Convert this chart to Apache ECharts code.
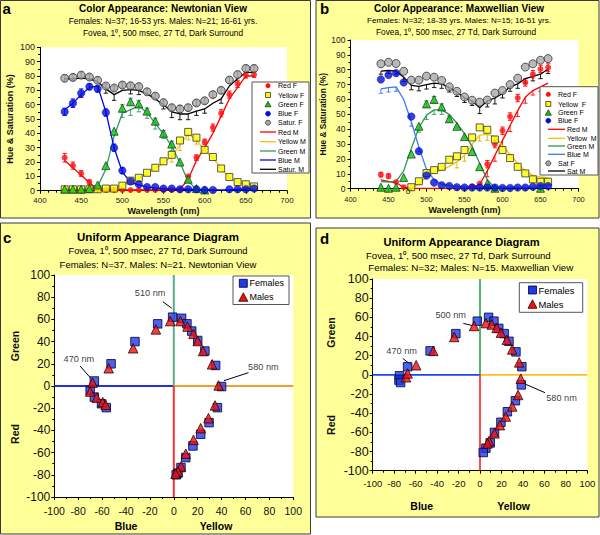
<!DOCTYPE html>
<html><head><meta charset="utf-8">
<script src="https://cdn.jsdelivr.net/npm/echarts@6/dist/echarts.min.js"></script>
<style>html,body{margin:0;padding:0;background:#fff}#c{width:600px;height:535px}</style>
</head><body><div id="c"></div><script>
// ---------- DATA ----------
const nmA = [430,440,450,460,470,480,490,500,510,520,530,540,550,560,570,580,590,600,610,620,630,640,650,660];
const redF_a = [23,17.5,12,6,1,0.5,0.5,0.5,0.5,0.5,0.5,0.5,0.5,0.5,0.5,10,23,34,44,54,67,74.5,80.5,81];
const redM_a = [21,16,11,5.5,1,0.5,0.5,0.5,0.5,0.5,0.5,0.5,0.5,0.5,1,8,21,30,40,52,64,72,80,80];
const yelF_a = [1,1,1,1,1,1.5,1.5,3.5,7,9,12.5,16,20.5,25,35,41,37,28.5,23.5,15.5,9.5,6,4.5,3];
const yelM_a = [1,1,1,1,1,1.5,2,3.5,6.5,8.5,12,15.5,19.5,24,32,39.5,35.5,28,23,15.5,9,6,4,2.5];
const grnF_a = [1,1,1,1.5,4,17.5,41.5,57.5,62,60.5,55.5,48.5,40,32.5,20,8,1.5,0.5,null,null,null,null,null,null];
const grnM_a = [1,1,1,1.5,3,15,38,54,56.5,59,54.5,47,39.5,31,19.5,6.5,1,0.5,null,null,null,null,null,null];
const bluF_a = [55,61,68,72.5,71,54.5,30,14,6.5,4.5,2.5,2.5,1.5,1.5,1,1,1,0.5,0.5,null,1,1,1,1.5];
const bluM_a = [56.5,61,67,72,73,55,30,13,6,4,2.5,2,1.5,1,1,1,0.5,0.5,0.5,0.5,0.5,1,1,1.5];
const satF_a = [78.4,79,80.6,79.3,77,73,71.6,73.7,73.2,72.6,69,66,61.4,57.9,57,57.9,61.2,62.7,67,70,77.2,81,85.3,85.3];
const satM_a = [78,78,78.5,78,76,71,67,70,70.5,70,67.5,64,60,55,53.5,53.5,55.5,57,61,64,73,78,82.5,82.5];
// error-bar extents (below, above)
const redF_a_err = [3,2.5,2,1.5,0,0,0,0,0,0,0,0,0,0,0,0,2,2,2.5,2.5,2.5,2.5,2,2];
const yelM_a_lo  = [0,0,0,0,0,0,0,0,0,0,0,0,0,4,4,4,3,0,0,0,0,0,0,0];
const grnF_a_err = [0,0,0,0,0,0,0,2.5,2.5,2.5,2,2,2,2,0,0,0,0,0,0,0,0,0,0];
const grnM_a_lo  = [0,0,0,0,0,0,0,3,4,4,4,4,3,3,0,0,0,0,0,0,0,0,0,0];
const bluF_a_err = [2.5,3,3,2,2,2.5,2.5,2,0,0,0,0,0,0,0,0,0,0,0,0,0,0,0,0];
const satF_a_err = [2,2,2,2,2,1.5,1.5,2,2,2,2,2,2,2,2.5,2,2,2,2,2,2,2,2,2];
const satM_a_lo  = [0,0,0,0,0,3,4,0,3,3,0,0,3,4,4,4,3,3,0,3,0,0,0,0];

const nmB = [440,450,460,470,480,490,500,510,520,530,540,550,560,570,580,590,600,610,620,630,640,650,660];
const redF_b = [9.5,8.5,4.5,1,null,null,null,null,null,null,null,null,1.5,3.5,16.5,30,39,48.5,61,71.5,77,80.5,81.5];
const redM_b = [6,5,4,1,0.3,0.2,0.2,0.2,0.2,0.2,0.2,0.2,0.5,3,12,22.5,32.5,42.5,52.5,61.5,66,68.5,71];
const yelF_b = [null,null,null,null,1,5,10.5,12.5,14.7,19.5,21.8,26,34.5,41.2,39.6,33.1,26,20.6,14.7,10.3,6.3,4.7,4.7];
const yelM_b = [null,null,null,null,1,3,8,11,12.5,15,18,22.5,30,36,36.5,35,29,23,17,12,9,8,7.5];
const grnF_b = [1,0.3,1,7.5,23.3,42,57,60,55,47,42,35,25,14.8,3.4,0.3,null,null,null,null,null,0.3,null];
const grnM_b = [4.7,4.5,5,12,27,41,49.5,53,53,50,44,37,28.5,17,6,0.5,0.3,null,null,null,null,null,null];
const bluF_b = [73.5,76.5,77.7,71.5,48.5,25.2,8.8,4.1,2.3,1.8,1,0.8,0.8,0.8,0.8,0.8,0.5,0.5,0.8,0.8,1.3,1.8,1.8];
const bluM_b = [67.2,68,68.5,60,45,28,13,6,3,2,1.5,1.2,1,1,1,1,1,1,1,1,1,1,1];
const satF_b = [84,85,84.2,79,73,73,75.7,75,72.8,68.5,65.5,61.7,59.5,58.2,59.6,64.3,66,70,74.3,81.8,84,86.4,87.5];
const satM_b = [79,79.5,79,75,69.5,68.8,70,71,70.5,68,65,61,59,54.5,59,61,64,68.5,70.5,74,75.5,77,80.5];
const redF_b_err = [1.5,1.5,0,0,0,0,0,0,0,0,0,0,0,0,2.5,2.5,2.5,2.5,2.5,2.5,2.5,2.5,2.5];
const redM_b_lo  = [0,0,0,0,0,0,0,0,0,0,0,0,0,0,4,4,4,4,4,4,3,3,0];
const yelM_b_lo  = [0,0,0,0,0,0,0,0,0,0,4,4,4,4,4,4,0,0,0,0,0,0,0];
const grnF_b_err = [0,0,0,0,0,0,2,2,2,2,0,0,0,0,0,0,0,0,0,0,0,0,0];
const grnM_b_lo  = [0,0,0,0,0,3,3,3,3,3,3,3,0,0,0,0,0,0,0,0,0,0,0];
const bluM_b_lo  = [3,3,3,0,3,3,0,0,0,0,0,0,0,0,0,0,0,0,0,0,0,0,0];
const satM_b_lo  = [2,2,2,3,3,3,3,3,3,3,3,3,3,4,4,4,3,3,3,3,3,3,3];

const femalesC = [[-66.5,4.5],[-70,-4],[-66.5,-10],[-60.5,-16],[-56.5,-19.5],[-52.5,20],[-32.5,40],[-13.5,56],[-1,62],[6.5,61],[11,56],[15,49.5],[20,41],[26,31.5],[35,18.5],[40,-0.5],[36.5,-19.5],[29.5,-33],[22.5,-43.5],[16,-54],[10,-64.5],[6,-73.5],[3.5,-78.5],[2,-80]];
const malesC = [[-68,3],[-70,-5],[-64.5,-10.5],[-59.5,-14.5],[-57,-17],[-54.5,16],[-34,34],[-15,51],[-3,58.5],[5.5,58.5],[11.5,53.5],[16.5,47],[20,40.5],[24.5,31.5],[32,19.5],[37.5,0.5],[34.5,-17.5],[29,-29],[22.5,-38],[16.5,-48.5],[10,-61],[6,-72.5],[3.5,-77],[1.5,-79]];
const femalesD = [[-75,-1],[-75.5,-5.5],[-74,-8],[-67.5,8.5],[-46.5,25],[-22.5,43],[-2.5,56],[8,60],[13,56],[17.5,48.5],[22.5,43],[27,35],[33.5,24],[39,8.5],[38.5,-10.5],[33,-27],[25.5,-38.5],[19.5,-49.5],[13.5,-60],[9.5,-71],[5.5,-76.5],[3,-81]];
const malesD = [[-69,-2.5],[-67.5,1.5],[-59.5,10],[-43.5,25],[-24,39.5],[-5.5,51],[5.5,54],[11,52.5],[15.5,49],[19.5,44],[25,36.5],[30,26.5],[36.5,13],[38,-4],[35.5,-21],[30,-33],[24,-43.5],[18.5,-52.5],[13.5,-61],[8.5,-69],[7,-71.5]];

const notesC = [
  {t:'510 nm', at:[-19.8,84], from:[-9.2,76], to:[-1.7,70]},
  {t:'470 nm', at:[-79.4,24], from:[-78.4,18], to:[-69.5,7]},
  {t:'580 nm', at:[75,17.5], from:[62.5,12], to:[42,4.8]}
];
const notesD = [
  {t:'500 nm', at:[-27.3,62.4], from:[-15.5,53.7], to:[-6.8,51.3]},
  {t:'470 nm', at:[-73,25.2], from:[-72,17.2], to:[-63,9.2]},
  {t:'580 nm', at:[76,-23.8], from:[60.6,-18.6], to:[42,-9.6]}
];
const UAD_MIN = -100, UAD_MAX = 100;

// ---------- HELPERS ----------
const FONT = "'Liberation Sans', Arial, Helvetica, sans-serif";
function pairs(xs, ys){ const o=[]; xs.forEach((x,i)=>{ if(ys[i]!=null) o.push([x,ys[i]]); }); return o; }
function F(name, xs, ys, idx, s){
  return {type:'scatter', name, xAxisIndex:idx, yAxisIndex:idx, data:pairs(xs,ys), symbol:s.sym, symbolSize:s.size,
    itemStyle:{color:s.c, borderColor:s.bc||s.c, borderWidth:s.bw||0}, z:5, silent:true};
}
function M(name, xs, ys, idx, color, w){
  return {type:'line', name, xAxisIndex:idx, yAxisIndex:idx, data:pairs(xs,ys), symbol:'none', smooth:false,
    lineStyle:{color, width:w||1.3}, itemStyle:{color}, z:4, silent:true};
}
function E(idx, xs, ys, lo, hi, color){
  const data=[];
  xs.forEach((x,i)=>{ const l=lo[i]||0, h=(hi?hi[i]:0)||0; if(ys[i]!=null && (l||h)) data.push([x, ys[i], l, h]); });
  return {type:'custom', xAxisIndex:idx, yAxisIndex:idx, silent:true, z:3, data, encode:{x:0,y:1},
    renderItem:(params, api)=>{
      const x=api.value(0), y=api.value(1), l=api.value(2), h=api.value(3);
      const a=api.coord([x,y-l]), b=api.coord([x,y+h]), cw=2.2, st={stroke:color, lineWidth:0.9};
      const ch=[{type:'line', shape:{x1:a[0],y1:a[1],x2:b[0],y2:b[1]}, style:st}];
      if(l>0) ch.push({type:'line', shape:{x1:a[0]-cw,y1:a[1],x2:a[0]+cw,y2:a[1]}, style:st});
      if(h>0) ch.push({type:'line', shape:{x1:b[0]-cw,y1:b[1],x2:b[0]+cw,y2:b[1]}, style:st});
      return {type:'group', children:ch};
    }};
}
function P(name, pts, idx, s){
  return {type:'scatter', name, xAxisIndex:idx, yAxisIndex:idx, data:pts, symbol:s.sym, symbolSize:s.size,
    itemStyle:{color:s.c, borderColor:s.bc, borderWidth:s.bw}, z:6, silent:true};
}
function seg(idx, a, b, color, w){
  return {type:'line', xAxisIndex:idx, yAxisIndex:idx, data:[a,b], symbol:'none', lineStyle:{color, width:w}, z:2, silent:true};
}
function notes(idx, list, fs){
  return {type:'scatter', xAxisIndex:idx, yAxisIndex:idx, symbolSize:0, silent:true, z:7,
    data:list.map(n=>({name:n.t, value:n.at})),
    label:{show:true, position:'inside', formatter:'{b}', color:'#000', fontSize:fs, fontFamily:FONT},
    markLine:{silent:true, symbol:['none','arrow'], symbolSize:[0,7], label:{show:false},
      lineStyle:{color:'#000', width:1, type:'solid'},
      data:list.map(n=>[{coord:n.from},{coord:n.to}])}};
}

const sRedF = {sym:'circle', size:6, c:'#ff1010'};
const sYelF = {sym:'rect', size:7, c:'#ffff00', bc:'#333', bw:1};
const sGrnF = {sym:'triangle', size:8, c:'#00d000', bc:'#333', bw:1};
const sBluF = {sym:'circle', size:7.5, c:'#0010e0', bc:'#000070', bw:0.5};
const sSatF = {sym:'circle', size:8, c:'#a8a8a8', bc:'#333', bw:1};
const sFem = {sym:'rect', size:8.5, c:'#1f3ae8', bc:'#000030', bw:1};
const sMal = {sym:'triangle', size:9.5, c:'#ee1111', bc:'#300000', bw:1};
const cRed='#ff0000', cYel='#f5c400', cGrnA='#2f9a6a', cGrnB='#2a9a55', cBluA='#0000ff', cBluB='#3a78ff';

function waveX(idx, fs, margin, nameGap){
  return {gridIndex:idx, type:'value', min:400, max:700, interval:50,
    axisLine:{show:true, onZero:false, lineStyle:{color:'#000', width:1}},
    axisTick:{show:true, length:3, lineStyle:{color:'#000'}},
    minorTick:{show:true, splitNumber:5, length:2, lineStyle:{color:'#000'}},
    splitLine:{show:false},
    axisLabel:{fontSize:fs, color:'#222', margin, fontFamily:FONT},
    name:'Wavelength (nm)', nameLocation:'middle', nameGap,
    nameTextStyle:{fontWeight:'bold', fontSize:9, color:'#111', fontFamily:FONT}};
}
function pctY(idx, fs, nameGap, nfs){
  return {gridIndex:idx, type:'value', min:0, max:100, interval:10,
    axisLine:{show:true, onZero:false, lineStyle:{color:'#000', width:1}},
    axisTick:{show:true, length:3, lineStyle:{color:'#000'}},
    minorTick:{show:true, splitNumber:2, length:2, lineStyle:{color:'#000'}},
    splitLine:{show:false},
    axisLabel:{fontSize:fs, color:'#222', margin:5, fontFamily:FONT},
    name:'Hue & Saturation (%)', nameLocation:'middle', nameGap, nameRotate:90,
    nameTextStyle:{fontWeight:'bold', fontSize:nfs, color:'#111', fontFamily:FONT}};
}
function uadAxis(idx, fs, margin){
  return {gridIndex:idx, type:'value', min:UAD_MIN, max:UAD_MAX, interval:20,
    axisLine:{show:true, onZero:false, lineStyle:{color:'#000', width:1}},
    axisTick:{show:true, length:3, lineStyle:{color:'#000'}},
    minorTick:{show:true, splitNumber:2, length:2, lineStyle:{color:'#000'}},
    splitLine:{show:false},
    axisLabel:{fontSize:fs, color:'#111', margin, fontFamily:FONT}};
}
function txt(text, x, y, size, bold, align){
  return {type:'text', x, y, z:20, silent:true,
    style:{text, fill:'#000', font:(bold?'bold ':'')+size+'px '+FONT, align:align||'center', verticalAlign:'middle'}};
}
function rtxt(text, x, y, size){
  return {type:'text', x, y, rotation:Math.PI/2, z:20, silent:true,
    style:{text, fill:'#111', font:'bold '+size+'px '+FONT, align:'center', verticalAlign:'middle'}};
}
function panel(x,y,w,h){
  return {type:'rect', shape:{x,y,width:w,height:h}, z:-10, silent:true, style:{fill:'#ffff99', stroke:'#3a3a3a', lineWidth:1}};
}
function box(x,y,w,h){
  return {type:'rect', shape:{x,y,width:w,height:h}, z:15, silent:true, style:{fill:'#fff', stroke:'#555', lineWidth:1}};
}
function letter(t,x,y){
  return {type:'text', x, y, z:20, silent:true, style:{text:t, fill:'#000', font:'bold 15px '+FONT, align:'left', verticalAlign:'top'}};
}
// legend-key glyphs (layout only)
function key(s, x, y, size){
  const st = {fill:s.c, stroke:s.bw?s.bc:null, lineWidth:s.bw?Math.min(s.bw,0.8):0};
  const h = size/2;
  if (s.sym==='circle') return {type:'circle', shape:{cx:x, cy:y, r:h}, z:18, silent:true, style:st};
  if (s.sym==='rect') return {type:'rect', shape:{x:x-h, y:y-h, width:size, height:size}, z:18, silent:true, style:st};
  return {type:'polygon', shape:{points:[[x,y-h-0.5],[x+h+0.5,y+h],[x-h-0.5,y+h]]}, z:18, silent:true, style:st};
}
function keyLine(color, x1, x2, y){
  return {type:'line', shape:{x1, y1:y, x2, y2:y}, z:18, silent:true, style:{stroke:color, lineWidth:1.3}};
}

// legend layouts (pixel positions of each key row)
const legA = [
  ['Red F',sRedF,85.7],['Yellow F',sYelF,95],['Green F',sGrnF,104.3],['Blue F',sBluF,113.7],['Satur. F',sSatF,122.7],
  ['Red M',cRed,132],['Yellow M',cYel,141.7],['Green M',cGrnA,151],['Blue M',cBluA,160],['Satur. M','#000',169.3]];
const legB = [
  ['Red F',sRedF,94.3],['Yellow  F',sYelF,104],['Green F',sGrnF,112.7],['Blue F',sBluF,120.7],
  ['Red M',cRed,129.3],['Yellow  M',cYel,138.3],['Green M',cGrnB,146],['Blue M',cBluB,154.3],
  ['Sat F',sSatF,163.3],['Sat M','#000',171]];
function legendGraphics(rows, mx, tF, lx1, lx2, tM, fs, ks){
  const g=[];
  rows.forEach(([name, st, y])=>{
    if (typeof st === 'string'){ g.push(keyLine(st, lx1, lx2, y)); g.push(Object.assign(txt(name, tM, y, fs, false, 'left'),{z:19})); }
    else { g.push(key(st, mx, y, ks)); g.push(Object.assign(txt(name, tF, y, fs, false, 'left'),{z:19})); }
  });
  return g;
}

const option = {
  animation:false,
  backgroundColor:'#fff',
  graphic:[
    panel(0.5,0.5,310,217.5), panel(316,0.5,283,217.5), panel(0.5,223,310,311), panel(316,228,283,289),
    letter('a',2.5,1), letter('b',320,1), letter('c',3,230), letter('d',320,231),
    txt('Color Appearance: Newtonian View',163,8,10,true),
    txt('Females: N=37; 16-53 yrs. Males: N=21; 16-61 yrs.',163,21,8.3,false),
    txt('Fovea, 1\u2070, 500 msec, 27 Td, Dark Surround',163,33,8.3,false),
    txt('Color Appearance: Maxwellian View',459,8,10,true),
    txt('Females: N=32; 18-35 yrs. Males: N=15; 16-51 yrs.',459,20.7,8.1,false),
    txt('Fovea, 1\u2070, 500 msec, 27 Td, Dark Surround',456,32.3,8.3,false),
    txt('Uniform Appearance Diagram',158,236.7,11.5,true),
    txt('Fovea, 1\u2070, 500 msec, 27 Td, Dark Surround',158,250.7,9.3,false),
    txt('Females: N=37. Males: N=21. Newtonian View',158,264,9.5,false),
    txt('Uniform Appearance Diagram',461.5,241.7,11.1,true),
    txt('Fovea, 1\u2070, 500 msec, 27 Td, Dark Surround',458.3,255,9.6,false),
    txt('Females: N=32; Males: N=15. Maxwellian View',470.8,267.3,9.8,false),
    rtxt('Green',15,346,10.5), rtxt('Red',15,434,10.5),
    txt('Blue',126,526,10.5,true), txt('Yellow',216,526,10.5,true),
    rtxt('Green',330.7,332.5,10.5), rtxt('Red',330.7,425,10.5),
    txt('Blue',421.7,506,10.5,true), txt('Yellow',513.7,506,10.5,true),
    txt('0',408,191.5,8,false),
    box(252,82,57,91), box(540,86.7,58,88.3), box(233,276,56,28.5), box(519.3,282.7,63.4,29.6),
    ...legendGraphics(legA, 268, 278, 260, 276, 278, 7, 5),
    ...legendGraphics(legB, 548.3, 558, 548, 565, 567, 7, 5),
    key(sFem, 243.3, 283.3, 8), Object.assign(txt('Females', 249.5, 283.3, 9, false, 'left'),{z:19}),
    key(sMal, 243.3, 297.3, 8), Object.assign(txt('Males', 249.5, 297.3, 9, false, 'left'),{z:19}),
    key(sFem, 532.5, 290, 8), Object.assign(txt('Females', 538.5, 290, 9.4, false, 'left'),{z:19}),
    key(sMal, 532.5, 304.3, 8), Object.assign(txt('Males', 538.5, 304.3, 9.4, false, 'left'),{z:19})
  ],
  grid:[
    {left:40, top:47.3, width:247, height:143.4, show:true, backgroundColor:'#fff', borderWidth:0},
    {left:350.5, top:40, width:228, height:148.7, show:true, backgroundColor:'#fff', borderWidth:0},
    {left:54.3, top:275, width:239, height:222, show:true, backgroundColor:'#fff', borderWidth:0},
    {left:372.7, top:279, width:214.6, height:191.7, show:true, backgroundColor:'#fff', borderWidth:0}
  ],
  xAxis:[ waveX(0,8,6,15.5), waveX(1,7.5,7,16.5), uadAxis(2,10.5,8), uadAxis(3,9.5,8) ],
  yAxis:[ pctY(0,9,25.5,9), pctY(1,8.5,23,8.3), uadAxis(2,12,4), uadAxis(3,12.5,4) ],
  series:[
    // Panel a
    E(0, nmA, satM_a, satM_a_lo, null, '#000'),
    E(0, nmA, grnM_a, grnM_a_lo, null, cGrnA),
    E(0, nmA, yelM_a, yelM_a_lo, null, '#e0b000'),
    E(0, nmA, satF_a, satF_a_err, satF_a_err, '#333'),
    E(0, nmA, bluF_a, bluF_a_err, bluF_a_err, cBluA),
    E(0, nmA, grnF_a, grnF_a_err, grnF_a_err, cGrnA),
    E(0, nmA, redF_a, redF_a_err, redF_a_err, cRed),
    M('Red M', nmA, redM_a, 0, cRed),
    M('Yellow M', nmA, yelM_a, 0, cYel),
    M('Green M', nmA, grnM_a, 0, cGrnA),
    M('Blue M', nmA, bluM_a, 0, cBluA),
    M('Satur. M', nmA, satM_a, 0, '#000000'),
    F('Red F', nmA, redF_a, 0, sRedF),
    F('Yellow F', nmA, yelF_a, 0, sYelF),
    F('Green F', nmA, grnF_a, 0, sGrnF),
    F('Blue F', nmA, bluF_a, 0, sBluF),
    F('Satur. F', nmA, satF_a, 0, sSatF),
    // Panel b
    E(1, nmB, satM_b, satM_b_lo, null, '#000'),
    E(1, nmB, grnM_b, grnM_b_lo, null, cGrnB),
    E(1, nmB, yelM_b, yelM_b_lo, null, '#e0b000'),
    E(1, nmB, redM_b, redM_b_lo, null, cRed),
    E(1, nmB, bluM_b, bluM_b_lo, null, cBluB),
    E(1, nmB, redF_b, redF_b_err, redF_b_err, cRed),
    E(1, nmB, grnF_b, grnF_b_err, grnF_b_err, cGrnB),
    M('Red M', nmB, redM_b, 1, cRed),
    M('Yellow M', nmB, yelM_b, 1, cYel),
    M('Green M', nmB, grnM_b, 1, cGrnB),
    M('Blue M', nmB, bluM_b, 1, cBluB),
    M('Sat M', nmB, satM_b, 1, '#000000'),
    F('Red F', nmB, redF_b, 1, sRedF),
    F('Yellow F', nmB, yelF_b, 1, sYelF),
    F('Green F', nmB, grnF_b, 1, sGrnF),
    F('Blue F', nmB, bluF_b, 1, sBluF),
    F('Sat F', nmB, satF_b, 1, sSatF),
    // Panel c
    seg(2,[UAD_MIN,0],[0,0],'#2030e8',2), seg(2,[0,0],[UAD_MAX,0],'#f0a030',2),
    seg(2,[0,0],[0,UAD_MAX],'#5aae86',2), seg(2,[0,UAD_MIN],[0,0],'#ff3030',2),
    P('Females', femalesC, 2, sFem), P('Males', malesC, 2, sMal),
    notes(2, notesC, 9.2),
    // Panel d
    seg(3,[UAD_MIN,0],[0,0],'#2040ff',1.6), seg(3,[0,0],[UAD_MAX,0],'#ffc020',1.6),
    seg(3,[0,0],[0,UAD_MAX],'#30a050',1.6), seg(3,[0,UAD_MIN],[0,0],'#ff2020',1.6),
    P('Females', femalesD, 3, sFem), P('Males', malesD, 3, sMal),
    notes(3, notesD, 9.2)
  ]
};
const chart = echarts.init(document.getElementById('c'), null, {renderer:'svg'});
chart.setOption(option);
</script></body></html>
